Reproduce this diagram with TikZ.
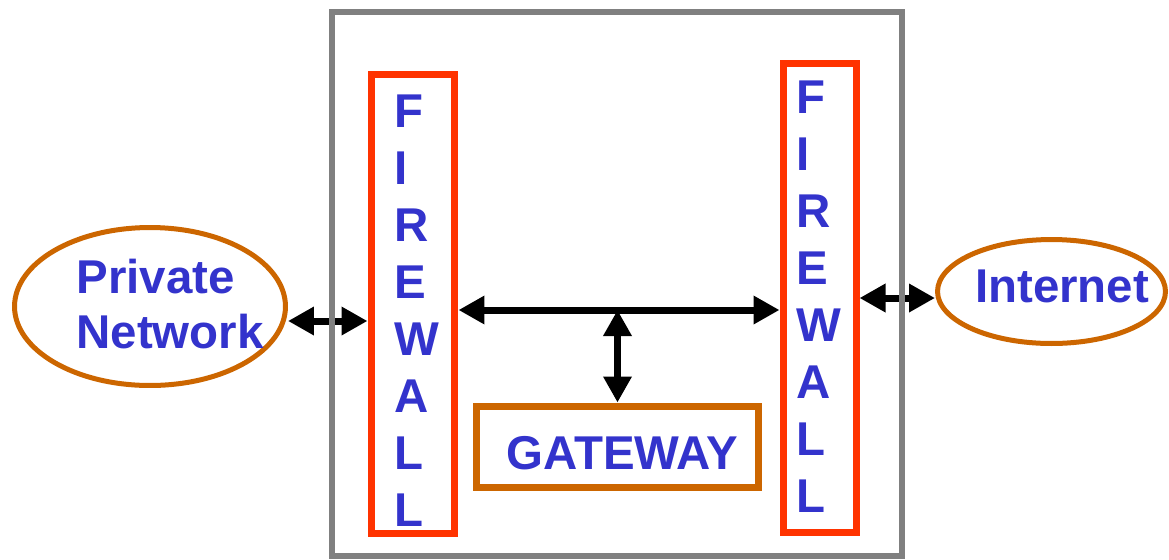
\documentclass[tikz,border=0pt]{standalone}
\usepackage{fontspec}
\setmainfont{Liberation Sans}
\usetikzlibrary{arrows.meta,shapes.geometric}

\definecolor{txtblue}{RGB}{51,51,204}
\definecolor{fwred}{RGB}{255,51,0}
\definecolor{netbrown}{RGB}{204,102,0}
\definecolor{boxgray}{RGB}{128,128,128}

\tikzset{
  lbl/.style={text=txtblue, font=\fontsize{27}{31.5}\selectfont\bfseries, inner sep=0pt},
  fwbox/.style={draw=fwred, line width=1.4mm, rectangle},
  gwbox/.style={draw=netbrown, line width=1.4mm, rectangle},
  cloud/.style={draw=netbrown, line width=1mm, ellipse},
  sysbox/.style={draw=boxgray, line width=1.3mm, rectangle},
  link/.style={line width=1.4mm, {Triangle[length=5.2mm,width=5.4mm]}-{Triangle[length=5.2mm,width=5.4mm]}}
}

\begin{document}
\begin{tikzpicture}[x=0.02cm, y=-0.02cm]

\useasboundingbox (0,0) rectangle (1169,559);

\coordinate (yl) at (0,321); % left link
\coordinate (mid) at (0,310); % main bus
\coordinate (yr) at (0,298); % right link

% firewalls
\node[fwbox, minimum width=1.68cm, minimum height=9.2cm] (fwl) at (413,304) {};
\node[fwbox, minimum width=1.46cm, minimum height=9.4cm] (fwr) at (819.5,298) {};

\foreach \c [count=\i from 0] in {F,I,R,E,W,A,L,L} {
  \node[lbl, anchor=base west] (fwl\i) at (394,127+57*\i) {\c};
  \node[lbl, anchor=base west] (fwr\i) at (796,113+57*\i) {\c};
}

% gateway
\node[gwbox, minimum width=5.66cm, minimum height=1.62cm,
  label={[lbl, xshift=0.1cm, yshift=-0.14cm]center:GATEWAY}] (gw) at (617.5,446.5) {};

% networks
\node[cloud, minimum width=5.42cm, minimum height=3.16cm,
  label={[lbl, align=left, xshift=0.4cm, yshift=0.05cm]center:{Private\\Network}}] (pn) at (150,306.5) {};
\node[cloud, minimum width=4.56cm, minimum height=2.08cm,
  label={[lbl, xshift=0.21cm, yshift=0.1cm]center:Internet}] (inet) at (1051.5,291.5) {};

% links
\draw[link] (pn.east |- yl) -- (fwl.west |- yl);
\draw[link] (fwl.east |- mid) -- (fwr.west |- mid);
\draw[link] (gw.north) -- (gw.north |- mid);
\draw[link] (fwr.east |- yr) -- (inet.west |- yr);

% outer box, drawn last so it lies over the links
\node[sysbox, minimum width=11.4cm, minimum height=10.88cm] (sys) at (617,284) {};

\end{tikzpicture}
\end{document}
